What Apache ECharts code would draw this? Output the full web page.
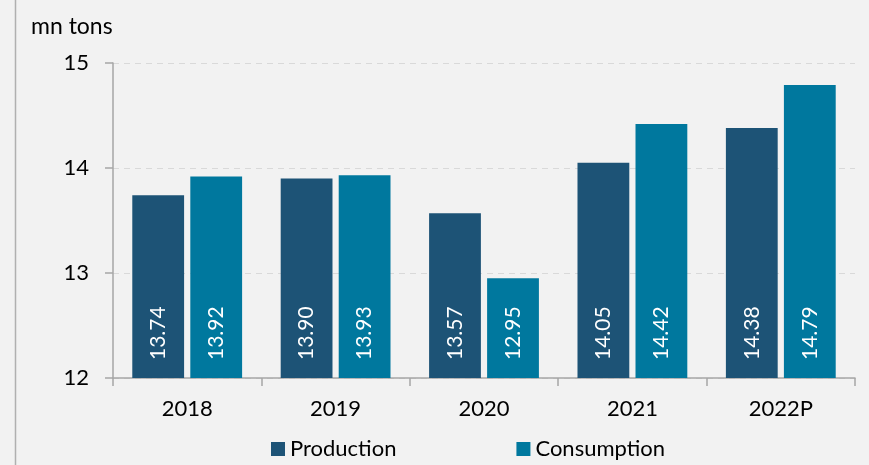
<!DOCTYPE html>
<html><head><meta charset="utf-8">
<script src="https://cdn.jsdelivr.net/npm/echarts@6/dist/echarts.min.js"></script>
<style>html,body{margin:0;padding:0;background:#f2f2f2}#c{width:869px;height:465px}</style>
</head><body><div id="c"></div>
<script>
const categories = ['2018','2019','2020','2021','2022P'];
const production = [13.74, 13.90, 13.57, 14.05, 14.38];
const consumption = [13.92, 13.93, 12.95, 14.42, 14.79];
const yTicks = [12, 13, 14, 15];
const FONT = 'Lato, "Open Sans", sans-serif';
const chart = echarts.init(document.getElementById('c'));
const lbl = {
  show: true, position: 'insideBottom', rotate: 90, align: 'left', verticalAlign: 'middle',
  distance: 18, color: '#ffffff', fontSize: 21, fontFamily: FONT,
  formatter: p => p.value.toFixed(2)
};
chart.setOption({
  backgroundColor: '#f2f2f2',
  animation: false,
  textStyle: {fontFamily: FONT},
  grid: {left: 113, right: 14, top: 63, bottom: 87},
  graphic: [
    {type: 'line', shape: {x1: 15.5, y1: 0, x2: 15.5, y2: 465}, style: {stroke: '#b0b0b0', lineWidth: 1.5}},
    {type: 'text', left: 31, top: 15, style: {text: 'mn tons', fontSize: 23, fontFamily: FONT, fill: '#000'}}
  ],
  legend: {
    bottom: 0, left: 266, itemWidth: 14, itemHeight: 14, itemGap: 120,
    icon: 'rect',
    textStyle: {fontSize: 22, color: '#000', fontFamily: FONT},
    data: ['Production', 'Consumption']
  },
  xAxis: {
    type: 'category', data: categories,
    axisLine: {lineStyle: {color: '#a6a6a6', width: 1.5}},
    axisTick: {show: true, length: 8, lineStyle: {color: '#a6a6a6', width: 1.5}},
    axisLabel: {fontSize: 22, color: '#000', margin: 20, fontFamily: FONT}
  },
  yAxis: {
    type: 'value', min: 12, max: 15, interval: 1,
    axisLine: {show: true, lineStyle: {color: '#a6a6a6', width: 1.5}},
    axisTick: {show: true, length: 8, lineStyle: {color: '#a6a6a6', width: 1.5}},
    axisLabel: {fontSize: 22, color: '#000', margin: 24, fontFamily: FONT,
      formatter: v => yTicks.includes(v) ? String(v) : ''},
    splitLine: {show: true, lineStyle: {color: '#d9d9d9', type: [6, 5], width: 1}}
  },
  series: [
    {name: 'Production', type: 'bar', data: production, itemStyle: {color: '#1d5376'},
     barGap: '12%', barCategoryGap: '26%', label: lbl},
    {name: 'Consumption', type: 'bar', data: consumption, itemStyle: {color: '#00789e'},
     label: lbl}
  ]
});
</script></body></html>
